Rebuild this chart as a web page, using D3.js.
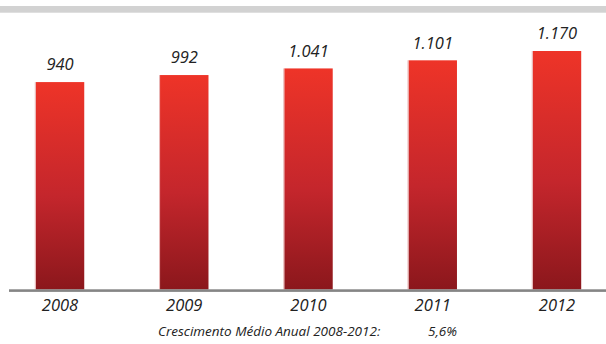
<!DOCTYPE html>
<html>
<head>
<meta charset="utf-8">
<script src="https://cdn.jsdelivr.net/npm/d3@7"></script>
<style>
  body { margin: 0; background: #fff; }
  text { font-family: "Open Sans", sans-serif; font-style: italic; fill: #222; }
</style>
</head>
<body>
<svg width="606" height="344"></svg>
<script>
// data
var years = ["2008", "2009", "2010", "2011", "2012"];
var values = [940, 992, 1041, 1101, 1170];
var valueLabels = ["940", "992", "1.041", "1.101", "1.170"];
var footLabel = "Crescimento Médio Anual 2008-2012:";
var footValue = "5,6%";

var svg = d3.select("svg");
var baseY = 289.5;

// band scale for the bars (centres about 124px apart)
var x = d3.scaleBand().domain(years).range([-2.1, 619.1]).paddingInner(0.61).paddingOuter(0.305);
// value axis does not start at zero in the original
var y = d3.scaleLinear().domain([-595, 1170]).range([baseY, 51]);

var defs = svg.append("defs");
var grad = defs.append("linearGradient")
    .attr("id", "barGrad")
    .attr("x1", 0).attr("y1", 0).attr("x2", 0).attr("y2", 1);
grad.append("stop").attr("offset", "0%").attr("stop-color", "#ee3428");
grad.append("stop").attr("offset", "55%").attr("stop-color", "#c4262c");
grad.append("stop").attr("offset", "100%").attr("stop-color", "#8b171c");

// gray band at the top
svg.append("rect")
    .attr("x", 0).attr("y", 6)
    .attr("width", 606).attr("height", 6.7)
    .attr("fill", "#d2d2d2");

var bars = svg.append("g")
  .selectAll("g")
  .data(values)
  .enter().append("g");

bars.append("rect")
    .attr("x", (d, i) => x(years[i]))
    .attr("y", (d) => y(d))
    .attr("width", x.bandwidth())
    .attr("height", (d) => baseY - y(d))
    .attr("fill", "url(#barGrad)");

// thin pale edges on the bars
bars.append("rect")
    .attr("x", (d, i) => x(years[i]) - 1)
    .attr("y", (d) => y(d))
    .attr("width", 1)
    .attr("height", (d) => baseY - y(d))
    .attr("fill", "#e8b4b4");

bars.append("text")
    .attr("x", (d, i) => x(years[i]) + x.bandwidth() / 2)
    .attr("y", (d) => y(d) - 11.7)
    .attr("text-anchor", "middle")
    .attr("font-size", "16.5px")
    .text((d, i) => valueLabels[i]);

// baseline
svg.append("rect")
    .attr("x", 9).attr("y", 289.3)
    .attr("width", 597).attr("height", 2.6)
    .attr("fill", "#858585");

svg.append("g")
  .selectAll("text")
  .data(years)
  .enter().append("text")
    .attr("x", (d) => x(d) + x.bandwidth() / 2)
    .attr("y", 310.7)
    .attr("text-anchor", "middle")
    .attr("font-size", "16.5px")
    .text((d) => d);

svg.append("text")
    .attr("x", 158).attr("y", 336)
    .attr("font-size", "13.5px")
    .text(footLabel);

svg.append("text")
    .attr("x", 428).attr("y", 336)
    .attr("font-size", "13.5px")
    .text(footValue);
</script>
</body>
</html>
